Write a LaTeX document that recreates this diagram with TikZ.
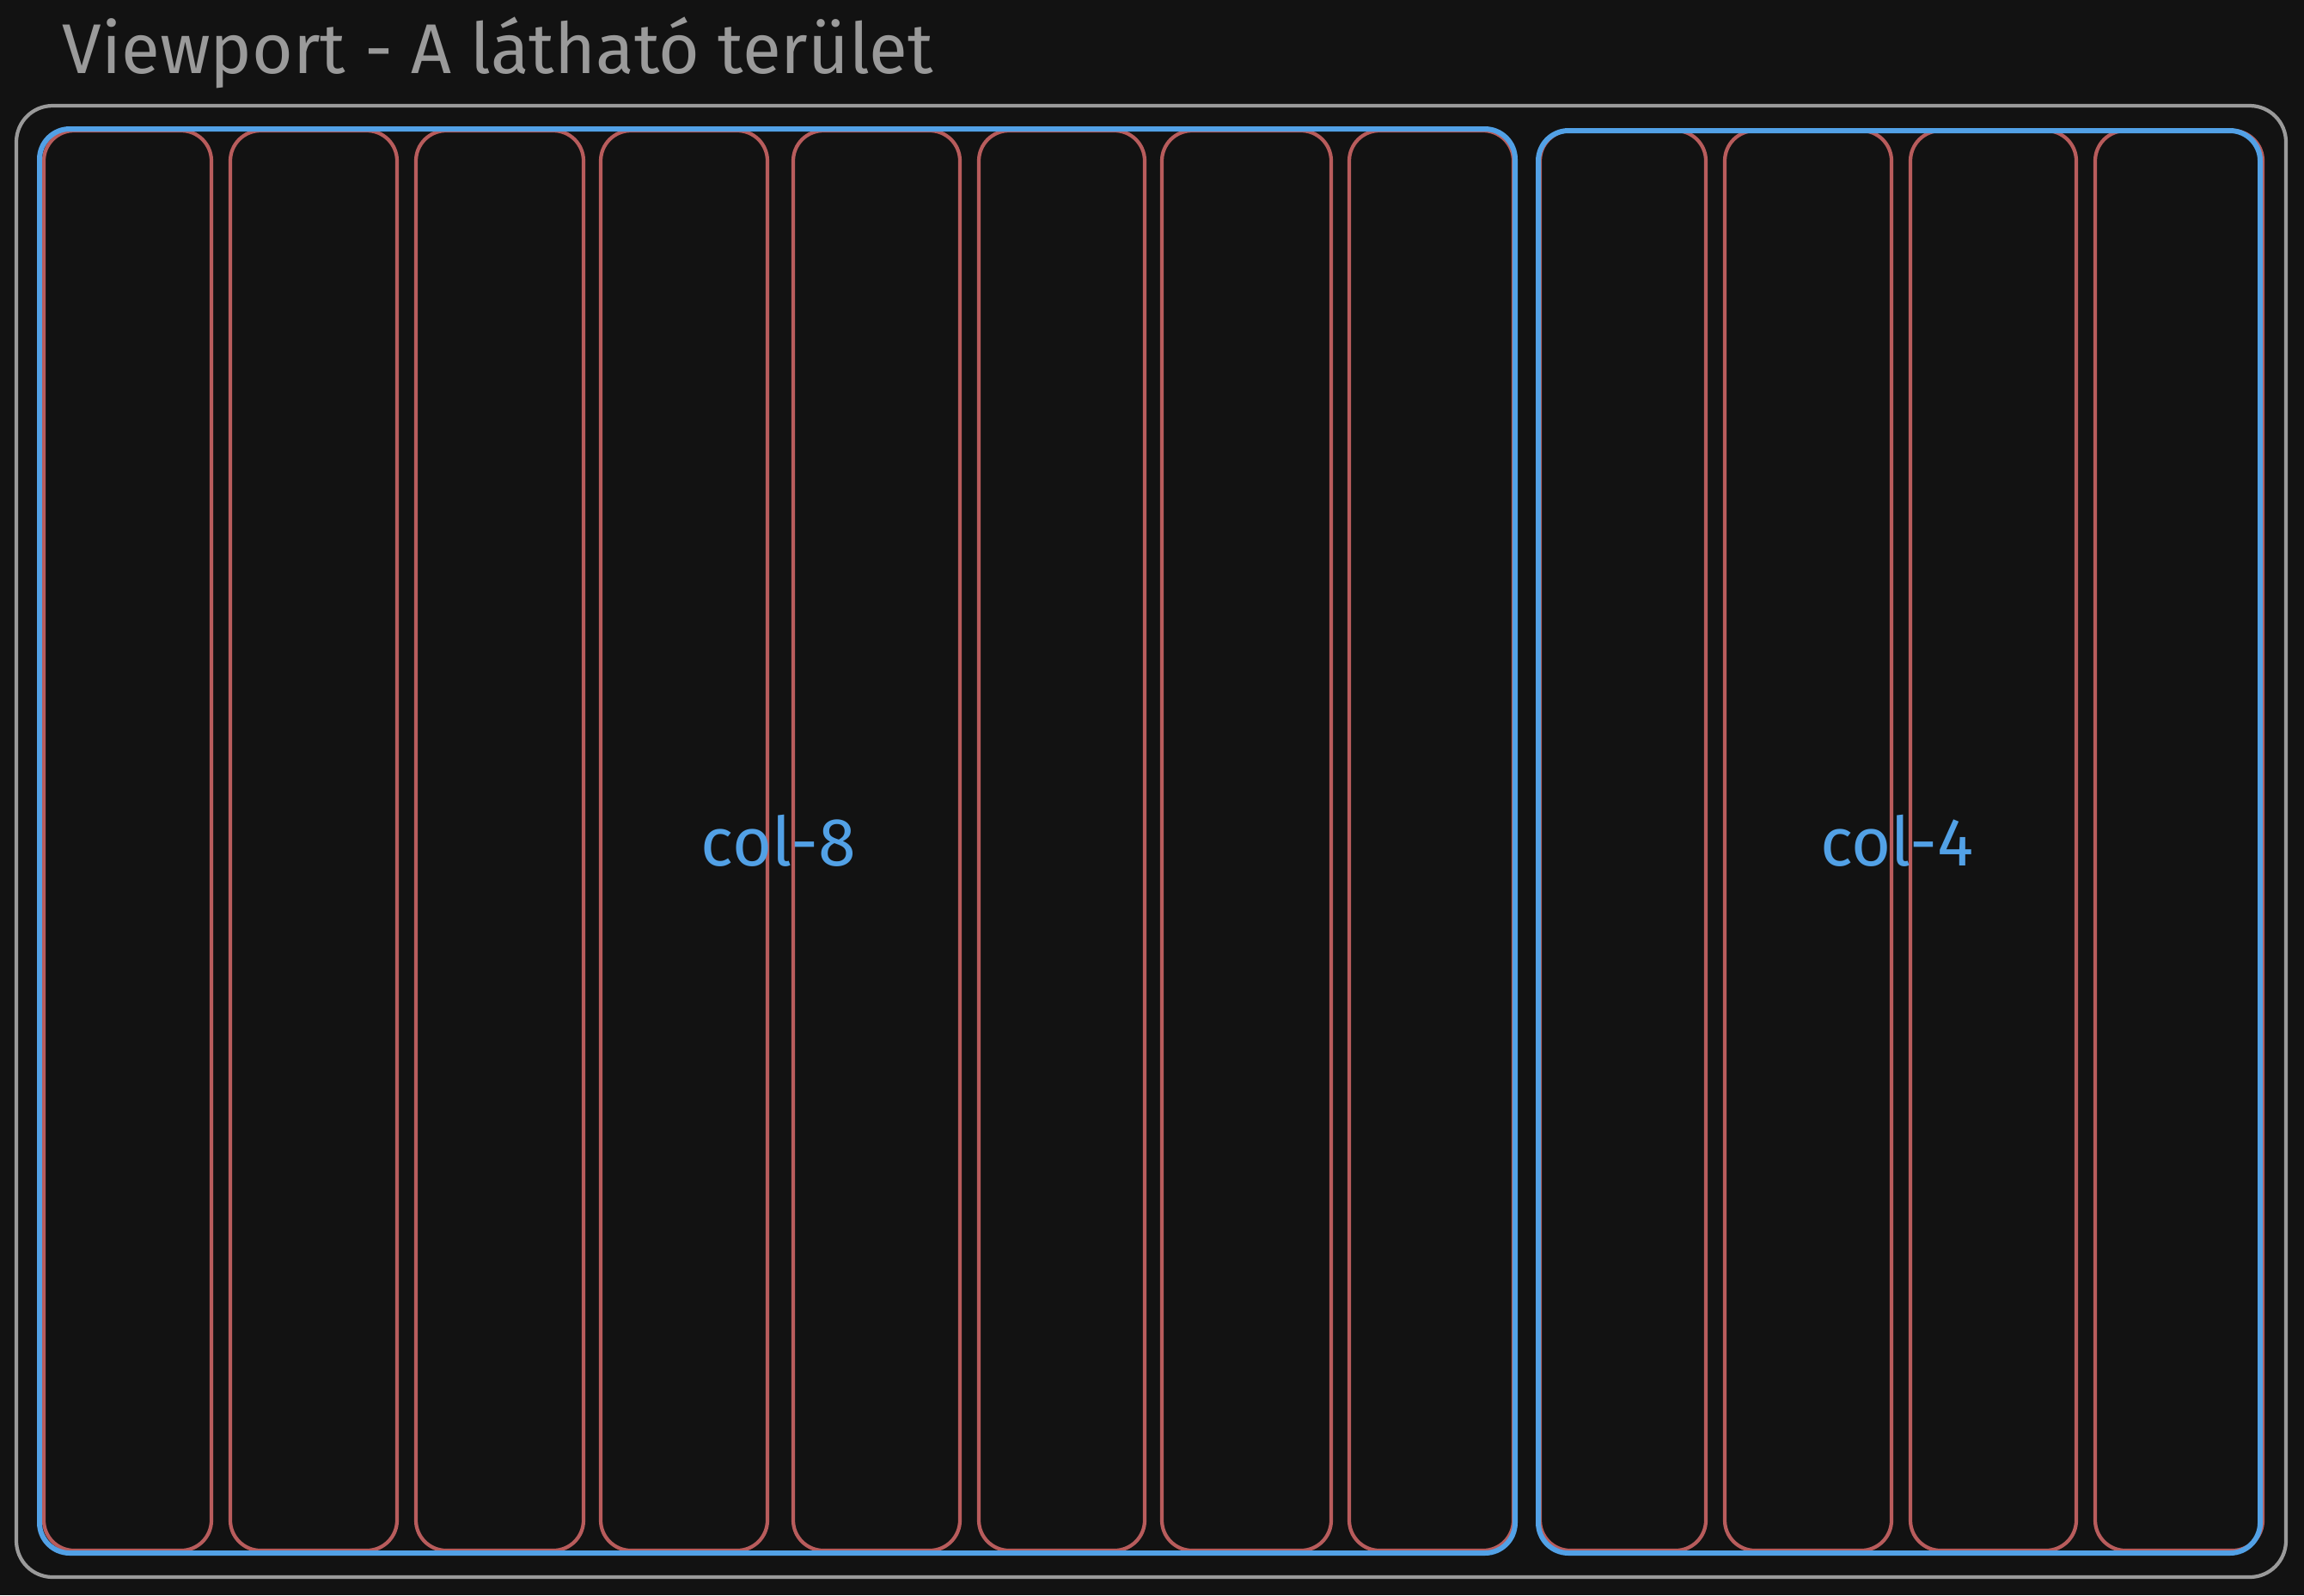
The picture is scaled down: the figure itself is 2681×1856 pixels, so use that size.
\documentclass[tikz,border=0pt]{standalone}
\usepackage{fontspec}
\setmainfont{Fira Sans}
\definecolor{bgc}{HTML}{121212}
\definecolor{grayc}{HTML}{9A9A9A}
\definecolor{redc}{HTML}{B85C5C}
\definecolor{bluec}{HTML}{52A1E6}
\begin{document}
\begin{tikzpicture}[x=0.01cm,y=-0.01cm,
  viewbox/.style={draw=grayc,line width=1.2pt,rounded corners=12pt},
  colbox/.style={draw=bluec,line width=1.7pt,rounded corners=10pt},
  gridcol/.style={draw=redc,line width=1.2pt,rounded corners=10pt},
  titletext/.style={text=grayc,font=\fontsize{23.3}{27}\selectfont,inner sep=0pt,anchor=base west},
  collabel/.style={text=bluec,font=\fontsize{22.5}{26}\selectfont,inner sep=0pt}]
\fill[bgc] (0,0) rectangle (2681,1856);
\useasboundingbox (0,0) rectangle (2681,1856);
\node[titletext] (title) at (72,85) {Viewport - A látható terület};
\draw[viewbox] (19,123) rectangle (2660,1835);
% grid columns
\foreach \i/\a/\b in {1/51/246,2/268/462,3/484/679,4/699/893,5/923/1117,6/1139/1332,7/1352/1549,8/1570/1761,9/1792/1985,10/2007/2201,11/2223/2416,12/2438/2633}{
  \draw[gridcol] (\a,152) coordinate (g\i nw) rectangle (\b,1804) coordinate (g\i se);
}
\draw[colbox] (46,150) coordinate (c8nw) rectangle (1763,1807) coordinate (c8se);
\draw[colbox] (1790,152) coordinate (c4nw) rectangle (2630,1807) coordinate (c4se);
\node[collabel] (l8) at (906,978) {col-8};
\node[collabel] (l4) at (2207,978) {col-4};
\end{tikzpicture}
\end{document}
